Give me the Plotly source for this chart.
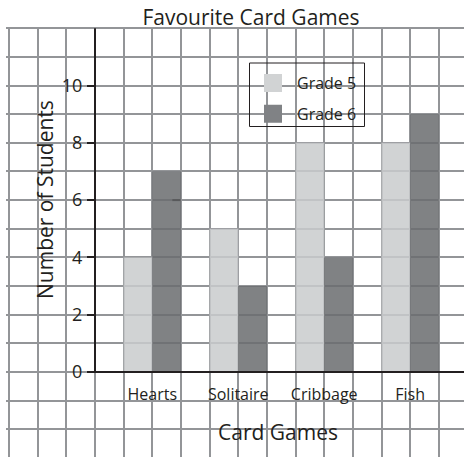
import plotly.graph_objects as go

# ---- data ----
categories = ["Hearts", "Solitaire", "Cribbage", "Fish"]
grade5 = [4, 5, 8, 8]
grade6 = [7, 3, 4, 9]
y_tick_values = [0, 2, 4, 6, 8, 10]
series_names = ["Grade 5", "Grade 6"]

# ---- styling ----
TEXT = "#231f20"
GRID = "#939598"
LIGHT = "#d1d3d4"
DARK = "#808285"
LIGHT_BAR = "rgba(201,203,204,0.85)"
DARK_BAR = "rgba(106,108,111,0.85)"
FONT = "Open Sans"

W, H = 464, 457
L, T = 6, 27                 # plot area starts here (px)
CELL = 28.65                 # px per graph-paper square (= 1 unit)
ORIGIN_X, ORIGIN_Y = 95, 372 # pixel position of the axes origin


def px_x(px):
    """pixel column -> paper x"""
    return (px - L) / (W - L)


def px_y(px):
    """pixel row -> paper y"""
    return (H - px) / (H - T)


x_range = [-(ORIGIN_X - L) / CELL, (W - ORIGIN_X) / CELL]
y_range = [-(H - ORIGIN_Y) / CELL, (ORIGIN_Y - T) / CELL]

# each category takes three squares: one blank, two bars
cat_pos = [2 + 3 * i for i in range(len(categories))]

fig = go.Figure()
fig.add_trace(go.Bar(x=cat_pos, y=grade5, name=series_names[0],
                     marker=dict(color=LIGHT_BAR, line=dict(width=0)),
                     showlegend=False))
fig.add_trace(go.Bar(x=cat_pos, y=grade6, name=series_names[1],
                     marker=dict(color=DARK_BAR, line=dict(width=0)),
                     showlegend=False))

# legend entries with larger square swatches
for name, col in zip(series_names, [LIGHT, DARK]):
    fig.add_trace(go.Scatter(x=[None], y=[None], mode="markers", name=name,
                             legendgroup=name,
                             marker=dict(symbol="square", size=16, color=col,
                                         line=dict(width=2, color=col))))

grid_minor = dict(tick0=0, dtick=1, showgrid=True, gridcolor=GRID,
                  gridwidth=2, ticks="")

fig.update_layout(
    width=W, height=H,
    margin=dict(l=L, r=0, t=T, b=0),
    paper_bgcolor="white", plot_bgcolor="white",
    barmode="group", bargap=1 / 3, bargroupgap=0,
    font=dict(family=FONT, color=TEXT),
    title=dict(text="Favourite Card Games", x=251 / W, xref="container",
               xanchor="center", y=1 - 18 / H, yref="container",
               yanchor="middle", font=dict(size=21, color=TEXT)),
    xaxis=dict(range=x_range, anchor="free",
               position=px_y(ORIGIN_Y),
               tickvals=cat_pos, ticktext=categories,
               ticks="outside", ticklen=4, tickcolor="rgba(0,0,0,0)",
               ticklabelstandoff=4,
               tickfont=dict(size=16, color=TEXT),
               showgrid=True, gridcolor=GRID, gridwidth=2,
               minor=grid_minor, zeroline=False, showline=False,
               fixedrange=True),
    yaxis=dict(range=y_range, anchor="free",
               position=px_x(ORIGIN_X),
               tickvals=y_tick_values,
               ticks="outside", ticklen=8, tickwidth=2, tickcolor=TEXT,
               ticklabelstandoff=1,
               tickfont=dict(size=18, color=TEXT),
               showgrid=True, gridcolor=GRID, gridwidth=2,
               minor=grid_minor, zeroline=False, showline=False,
               fixedrange=True),
    legend=dict(x=px_x(249), y=px_y(66),
                xanchor="left", yanchor="top", itemwidth=38,
                bgcolor="rgba(0,0,0,0)", borderwidth=0,
                font=dict(size=16, color=TEXT),
                traceorder="grouped", tracegroupgap=7),
    annotations=[
        dict(text="Number of Students", textangle=-90,
             x=px_x(45), y=px_y(200),
             xref="paper", yref="paper", showarrow=False,
             xanchor="center", yanchor="middle",
             font=dict(size=21, color=TEXT)),
        dict(text="Card Games",
             x=px_x(278), y=px_y(432),
             xref="paper", yref="paper", showarrow=False,
             xanchor="center", yanchor="middle",
             font=dict(size=21, color=TEXT)),
    ],
    shapes=[
        # axis lines
        dict(type="line", xref="x", yref="y", x0=0, x1=0, y0=0, y1=12,
             line=dict(color=TEXT, width=2), layer="above"),
        dict(type="line", xref="x", yref="y", x0=0, x1=x_range[1], y0=0, y1=0,
             line=dict(color=TEXT, width=2), layer="above"),
        # small stray tick on the Hearts bar
        dict(type="line", xref="x", yref="y", x0=2.7, x1=2.98, y0=6, y1=6,
             line=dict(color="#58595b", width=2), layer="above"),
        # frame around the legend
        dict(type="rect", xref="paper", yref="paper",
             x0=px_x(249.5), x1=px_x(364.5), y0=px_y(126.5), y1=px_y(63),
             line=dict(color=TEXT, width=1), fillcolor="rgba(0,0,0,0)",
             layer="above"),
    ],
)

fig.write_html("out.html")
